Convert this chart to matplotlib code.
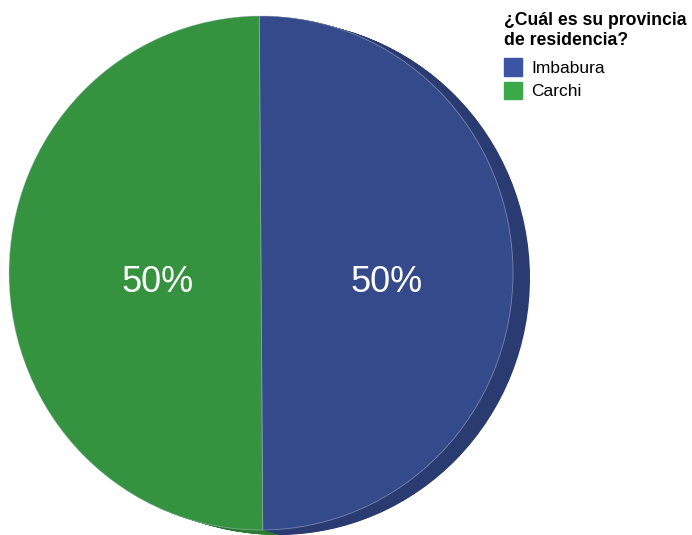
import matplotlib
matplotlib.use("Agg")
import matplotlib.pyplot as plt
import numpy as np

# data
provinces = ["Imbabura", "Carchi"]
shares = [50, 50]
legend_title = "¿Cuál es su provincia\nde residencia?"

top_colors = ["#354a8b", "#35933f"]
side_colors = ["#2a3b72", "#2a7a33"]
legend_colors = ["#3b55a4", "#3ba84a"]

W, H = 692, 535
CX, CY = 261, 262          # pie centre, px from left / bottom
RX, RY = 252, 257          # top-face radii in px
DEPTH = (17, -5)           # side extrusion in px

plt.rcParams["font.family"] = ["Liberation Sans", "DejaVu Sans"]

fig = plt.figure(figsize=(W / 100, H / 100), dpi=100)
ax = fig.add_axes([0, 0, 1, 1])

# side of the 3D disc: stacked darker copies, back to front
steps = 24
for t in np.linspace(1, 0, steps, endpoint=False):
    ax.pie(shares, colors=side_colors, startangle=90.4, counterclock=False,
           center=(DEPTH[0] * t / RX, DEPTH[1] * t / RY), radius=1,
           wedgeprops=dict(linewidth=0))

wedges, _, autotexts = ax.pie(
    shares, colors=top_colors, startangle=90.4, counterclock=False,
    autopct=lambda p: f"{p:.0f}%", pctdistance=0.45,
    wedgeprops=dict(linewidth=0.6),
    textprops=dict(color="white", fontsize=26))
for w in wedges:
    w.set_edgecolor((0.75, 0.78, 0.88, 0.5))

# label positions shifted as in the reference projection
label_x = [(387 - CX) / RX, (158 - CX) / RX]
label_y = (535 - 283 - CY) / RY
for txt, lx in zip(autotexts, label_x):
    txt.set_position((lx, label_y))
    txt.set_va("center")
    txt.set_ha("center")

ax.set_xlim(-CX / RX, (W - CX) / RX)
ax.set_ylim(-CY / RY, (H - CY) / RY)
ax.set_aspect("auto")
ax.axis("off")

handles = [plt.Rectangle((0, 0), 1, 1, color=c) for c in legend_colors]
leg = fig.legend(handles, provinces, title=legend_title, loc="upper left",
                 bbox_to_anchor=(504 / W, 1 - 12 / H), frameon=False,
                 fontsize=12.5, title_fontproperties=dict(weight="bold", size=12.7),
                 handlelength=1.05, handleheight=1.15, handletextpad=0.5,
                 labelspacing=0.35, borderpad=0, borderaxespad=0,
                 alignment="left")
leg._legend_box.sep = 7

fig.savefig("out.png", dpi=100)
